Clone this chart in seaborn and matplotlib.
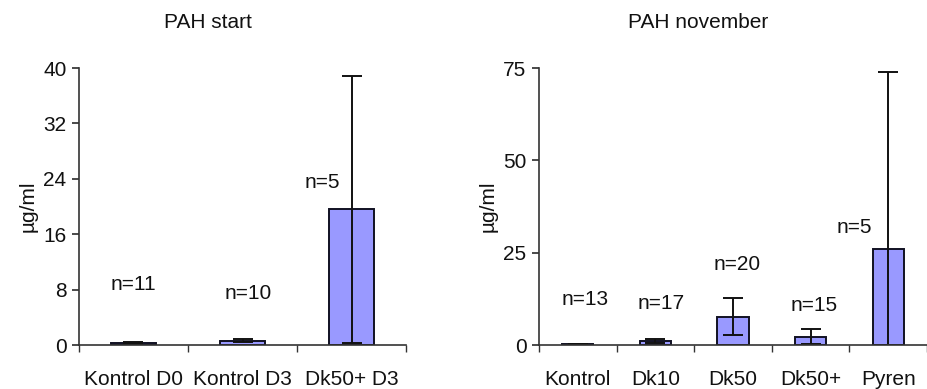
import numpy as np
import pandas as pd
import matplotlib
matplotlib.use("Agg")
import matplotlib.pyplot as plt
import seaborn as sns

# PAH start
start_groups = ["Kontrol D0", "Kontrol D3", "Dk50+ D3"]
start_means = [0.3, 0.6, 19.6]
start_err = [0.2, 0.2, 19.3]
start_n = ["n=11", "n=10", "n=5"]
start_label_y = [8.7, 7.5, 23.4]
start_label_dx = [0.0, 0.05, -0.27]

# PAH november
nov_groups = ["Kontrol", "Dk10", "Dk50", "Dk50+", "Pyren"]
nov_means = [0.3, 1.0, 7.7, 2.3, 26.0]
nov_err = [0.1, 0.5, 5.0, 2.0, 48.0]
nov_n = ["n=13", "n=17", "n=20", "n=15", "n=5"]
nov_label_y = [12.2, 11.3, 21.7, 10.6, 31.7]
nov_label_dx = [0.1, 0.08, 0.05, 0.04, -0.44]

sns.set_theme(style="white")
plt.rcParams['font.family'] = ['Liberation Sans', 'DejaVu Sans']
plt.rcParams['text.color'] = '#111111'
plt.rcParams['xtick.color'] = '#111111'
plt.rcParams['ytick.color'] = '#111111'
plt.rcParams['axes.labelcolor'] = '#111111'

fig = plt.figure(figsize=(9.27, 3.89), dpi=100)
ax1 = fig.add_axes([0.0852, 0.1131, 0.3528, 0.712])
ax2 = fig.add_axes([0.5814, 0.1131, 0.4186, 0.712])

bar_color = "#9999ff"
fs = 15


def draw_panel(ax, groups, means, err, labels, label_y, label_dx, ymax, yticks, width):
    df = pd.DataFrame({"group": groups, "value": means})
    sns.barplot(data=df, x="group", y="value", ax=ax, color=bar_color,
                edgecolor="#111122", linewidth=1.4, width=width, errorbar=None,
                saturation=1)
    x = np.arange(len(groups))
    ax.errorbar(x, means, yerr=err, fmt="none", ecolor="#111111",
                elinewidth=1.4, capsize=7, capthick=1.4, clip_on=True)
    for xi, lab, ly, dx in zip(x, labels, label_y, label_dx):
        ax.text(xi + dx, ly, lab, ha="center", va="center", fontsize=fs)
    ax.set_xlim(-0.5, len(groups) - 0.5)
    ax.set_ylim(0, ymax)
    ax.set_yticks(yticks)
    ax.set_xlabel("")
    ax.set_ylabel("µg/ml", fontsize=fs, labelpad=4)
    for s in ["top", "right"]:
        ax.spines[s].set_visible(False)
    for s in ["left", "bottom"]:
        ax.spines[s].set_color("#333333")
        ax.spines[s].set_linewidth(1.2)
    ax.set_xticks(np.arange(-0.5, len(groups)), minor=True)
    ax.tick_params(axis="x", which="major", length=0, pad=18, labelsize=fs)
    ax.tick_params(axis="x", which="minor", length=5, direction="out",
                   bottom=True, color="#333333")
    ax.tick_params(axis="y", length=5, direction="out", left=True,
                   labelsize=fs, pad=4, color="#333333")


draw_panel(ax1, start_groups, start_means, start_err, start_n, start_label_y,
           start_label_dx, 40, [0, 8, 16, 24, 32, 40], 0.42)
draw_panel(ax2, nov_groups, nov_means, nov_err, nov_n, nov_label_y,
           nov_label_dx, 75, [0, 25, 50, 75], 0.4)

fig.text(208 / 927, 1 - 22 / 389, "PAH start", ha="center", va="center", fontsize=fs)
fig.text(698 / 927, 1 - 22 / 389, "PAH november", ha="center", va="center", fontsize=fs)

fig.savefig("out.png", dpi=100)
